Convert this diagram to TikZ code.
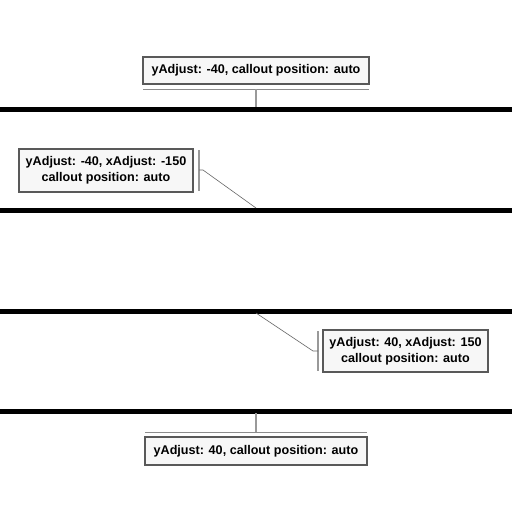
\documentclass[tikz,border=0pt]{standalone}
\usepackage{fontspec}
\setmainfont{Liberation Sans}
\begin{document}
\begin{tikzpicture}[x=1pt,y=-1pt,
  callout/.style={draw=black!65,line width=1.2pt,fill=black!3,font=\fontsize{12.6}{16}\selectfont\bfseries,align=center,inner sep=0pt},
  band/.style={line width=5pt,black},
  leader/.style={draw=black!40,line width=1.6pt},
  bar/.style={draw=black!45,line width=1pt},
  slant/.style={draw=black!60,line width=0.6pt}]
\useasboundingbox (0,0) rectangle (512,512);
% thick bands
\draw[band] (0,109) -- (512,109);
\draw[band] (0,210) -- (512,210);
\draw[band] (0,311) -- (512,311);
\draw[band] (0,411) -- (512,411);
% anchor coordinates on the bands
\coordinate (p1) at (256,107);
\coordinate (p2) at (256,208);
\coordinate (p3) at (256,313);
\coordinate (p4) at (256,413);
% boxes
\node[callout,minimum width=226,minimum height=27] (b1) at (256,70.5) {yAdjust: -40, callout position: auto};
\node[callout,minimum width=174,minimum height=43] (b2) at (106,170.5) {yAdjust: -40, xAdjust: -150\\callout position: auto};
\node[callout,minimum width=165,minimum height=42] (b3) at (405.5,351) {yAdjust: 40, xAdjust: 150\\callout position: auto};
\node[callout,minimum width=222,minimum height=28] (b4) at (256,451) {yAdjust: 40, callout position: auto};
% callout 1
\coordinate (c1l) at (143,89);
\coordinate (c1r) at (369,89);
\coordinate (c1m) at (256,89);
\draw[bar] (c1l) -- (c1r);
\draw[leader] (c1m) -- (p1);
% callout 2
\coordinate (c2t) at (199,150);
\coordinate (c2b) at (199,191);
\coordinate (c2m) at (199,170);
\coordinate (c2k) at (203,170);
\draw[leader] (c2t) -- (c2b);
\draw[slant] (c2m) -- (c2k) -- (p2);
% callout 3
\coordinate (c3t) at (318,331);
\coordinate (c3b) at (318,371);
\coordinate (c3m) at (318,351);
\coordinate (c3k) at (313,351);
\draw[leader] (c3t) -- (c3b);
\draw[slant] (p3) -- (c3k) -- (c3m);
% callout 4
\coordinate (c4l) at (145,432);
\coordinate (c4r) at (367,432);
\coordinate (c4m) at (256,432);
\draw[bar] (c4l) -- (c4r);
\draw[leader] (p4) -- (c4m);
\end{tikzpicture}
\end{document}
